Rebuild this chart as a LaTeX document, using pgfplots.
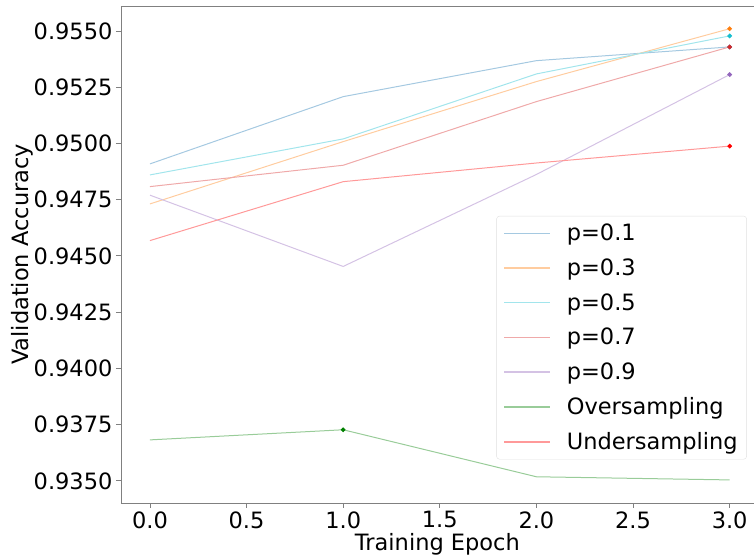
\documentclass[border=0pt]{standalone}
\usepackage{pgfplots}
\pgfplotsset{compat=1.18}
\usepackage{fontspec}
\setmainfont{DejaVu Sans}

\definecolor{tabblue}{HTML}{1F77B4}
\definecolor{taborange}{HTML}{FF7F0E}
\definecolor{tabcyan}{HTML}{17BECF}
\definecolor{tabred}{HTML}{D62728}
\definecolor{tabpurple}{HTML}{9467BD}
\definecolor{mgreen}{HTML}{008000}
\definecolor{mred}{HTML}{FF0000}

\begin{document}
\begin{tikzpicture}
\begin{axis}[
    scale only axis,
    width=633pt, height=497pt,
    xmin=-0.15, xmax=3.125,
    ymin=0.93402, ymax=0.95611,
    xtick={0,0.5,...,3},
    ytick={0.935,0.9375,0.94,0.9425,0.945,0.9475,0.95,0.9525,0.955},
    xticklabel style={/pgf/number format/.cd, fixed, fixed zerofill, precision=1},
    yticklabel style={/pgf/number format/.cd, fixed, fixed zerofill, precision=4},
    /pgf/number format/assume math mode=true,
    scaled y ticks=false,
    tick label style={font=\fontsize{22.5}{26}\selectfont},
    label style={font=\fontsize{22.5}{26}\selectfont},
    xlabel={Training Epoch},
    ylabel={Validation Accuracy},
    xlabel style={inner sep=0pt},
    ylabel style={inner sep=0pt},
    xlabel shift=1pt,
    ylabel shift=-3pt,
    separate axis lines,
    axis x line*=box,
    axis y line*=left,
    x axis line style={-, draw=gray},
    y axis line style={-, draw=gray},
    xtick pos=bottom, ytick pos=left,
    tick align=outside,
    major tick length=5pt,
    tick style={gray, line width=0.8pt},
    legend style={at={(0.989,0.5775)}, anchor=north east,
        draw=black!12, rounded corners=3pt, fill=white,
        font=\fontsize{22.5}{26}\selectfont, row sep=12.5pt,
        inner xsep=7pt, inner ysep=6pt},
    legend cell align=left,
    legend image code/.code={\draw[#1, line width=1.3pt] (0pt,0pt) -- (46pt,0pt);},
    every axis plot/.append style={line width=1pt},
]
\addplot[tabblue!40] coordinates {(0,0.94909) (1,0.95208) (2,0.95368) (3,0.95429)};
\addlegendentry{\hspace{14pt}p=0.1}
\addplot[taborange!40] coordinates {(0,0.94731) (1,0.95008) (2,0.95275) (3,0.95510)};
\addlegendentry{\hspace{14pt}p=0.3}
\addplot[tabcyan!40] coordinates {(0,0.94860) (1,0.95020) (2,0.95309) (3,0.95478)};
\addlegendentry{\hspace{14pt}p=0.5}
\addplot[tabred!40] coordinates {(0,0.94808) (1,0.94903) (2,0.95186) (3,0.95429)};
\addlegendentry{\hspace{14pt}p=0.7}
\addplot[tabpurple!40] coordinates {(0,0.94770) (1,0.94453) (2,0.94862) (3,0.95306)};
\addlegendentry{\hspace{14pt}p=0.9}
\addplot[mgreen!40] coordinates {(0,0.93682) (1,0.93727) (2,0.93518) (3,0.93504)};
\addlegendentry{\hspace{14pt}Oversampling}
\addplot[mred!40] coordinates {(0,0.94568) (1,0.94830) (2,0.94913) (3,0.94988)};
\addlegendentry{\hspace{14pt}Undersampling}
% best epoch markers
\addplot[forget plot, only marks, mark=*, mark size=1.8pt, tabblue] coordinates {(3,0.95429)};
\addplot[forget plot, only marks, mark=*, mark size=1.8pt, taborange] coordinates {(3,0.95510)};
\addplot[forget plot, only marks, mark=*, mark size=1.8pt, tabcyan] coordinates {(3,0.95478)};
\addplot[forget plot, only marks, mark=*, mark size=1.8pt, tabred] coordinates {(3,0.95429)};
\addplot[forget plot, only marks, mark=*, mark size=1.8pt, tabpurple] coordinates {(3,0.95306)};
\addplot[forget plot, only marks, mark=*, mark size=1.8pt, mgreen] coordinates {(1,0.93727)};
\addplot[forget plot, only marks, mark=*, mark size=1.8pt, mred] coordinates {(3,0.94988)};
\end{axis}
% figure padding as in the reference
\path ([shift={(-121pt,6pt)}]current axis.north west);
\path ([shift={(0pt,-53pt)}]current axis.south east);
\end{tikzpicture}
\end{document}
